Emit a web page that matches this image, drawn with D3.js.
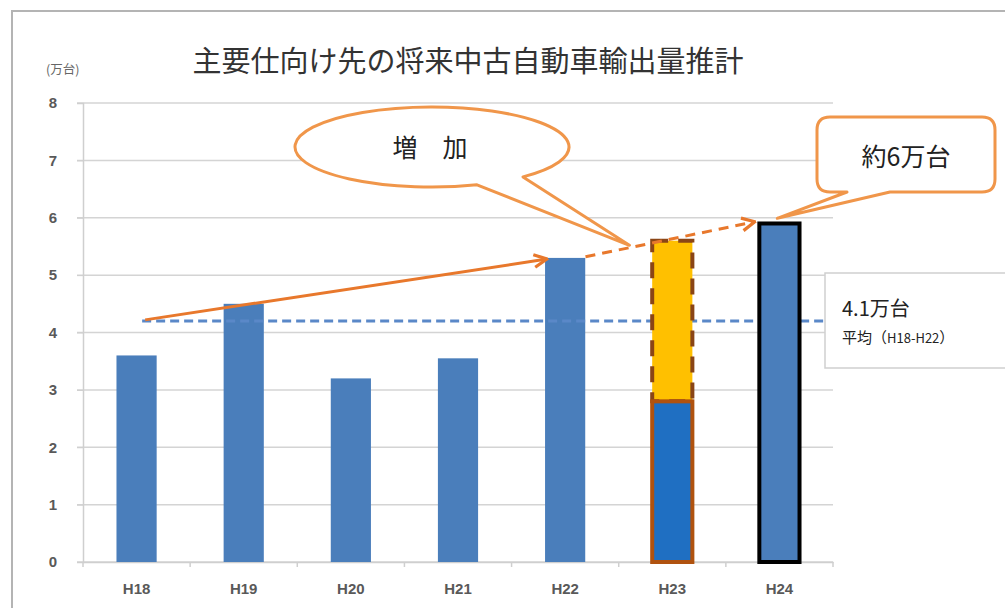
<!DOCTYPE html>
<html>
<head>
<meta charset="utf-8">
<script src="https://cdn.jsdelivr.net/npm/d3@7"></script>
<style>
  body { margin: 0; background: #fff; }
  svg { display: block; }
</style>
</head>
<body>
<div id="chart"></div>
<script>
// values (万台)
const categories = ["H18", "H19", "H20", "H21", "H22", "H23", "H24"];
const actual = [3.6, 4.5, 3.2, 3.55, 5.3];
const h23Parts = [2.8, 5.6];   // blue part top, yellow part top
const h24Value = 5.9;
const yTicks = [0, 1, 2, 3, 4, 5, 6, 7, 8];
const avgLine = 4.2;
// trend arrows: [category, position in band, value]
const trendSolid = [["H18", 0.58, 4.22], ["H22", 0.33, 5.28]];
const trendDashed = [["H22", 0.69, 5.32], ["H24", 0.27, 5.93]];
const tipIncrease = ["H23", 0.1, 5.52];
const tipSix = ["H24", 0.48, 5.99];

const W = 1005, H = 608;
const plotLeft = 83, plotRight = 833, plotTop = 103, plotBottom = 562;
const jp = "'Noto Sans CJK JP', 'Noto Sans', sans-serif";
const orange = "#e8782c";
const calloutOrange = "#f0964a";

const svg = d3.select("#chart").append("svg")
    .attr("width", W)
    .attr("height", H);

const x = d3.scaleBand()
    .domain(categories)
    .range([plotLeft, plotRight])
    .padding(0);

const y = d3.scaleLinear()
    .domain([0, 8])
    .range([plotBottom, plotTop]);

const bw = x.bandwidth() * 0.375;
const px = p => x(p[0]) + x.bandwidth() * p[1];
const py = p => y(p[2]);

// marker for arrows
svg.append("defs").append("marker")
    .attr("id", "arrow")
    .attr("viewBox", "0 0 10 10")
    .attr("refX", 9)
    .attr("refY", 5)
    .attr("markerWidth", 16)
    .attr("markerHeight", 16)
    .attr("markerUnits", "userSpaceOnUse")
    .attr("orient", "auto")
    .append("path")
    .attr("d", "M1,1 L9,5 L1,9")
    .attr("fill", "none")
    .attr("stroke", orange)
    .attr("stroke-width", 2);

// outer frame
svg.append("rect")
    .attr("x", 12)
    .attr("y", 11)
    .attr("width", 1200)
    .attr("height", 800)
    .attr("fill", "none")
    .attr("stroke", "#b4b4b4")
    .attr("stroke-width", 2);

// title
svg.append("text")
    .attr("x", 468)
    .attr("y", 72)
    .attr("text-anchor", "middle")
    .attr("font-family", jp)
    .attr("font-size", 29)
    .attr("fill", "#333")
    .text("主要仕向け先の将来中古自動車輸出量推計");

svg.append("text")
    .attr("x", 46)
    .attr("y", 74)
    .attr("font-family", jp)
    .attr("font-size", 12.5)
    .attr("fill", "#666")
    .text("(万台)");

// gridlines
svg.append("g")
    .selectAll("line")
    .data(yTicks)
    .enter()
    .append("line")
    .attr("x1", plotLeft - 6)
    .attr("x2", plotRight)
    .attr("y1", d => y(d))
    .attr("y2", d => y(d))
    .attr("stroke", "#d4d4d4")
    .attr("stroke-width", 1.5);

// y axis
const yAxis = svg.append("g")
    .attr("transform", `translate(${plotLeft},0)`)
    .call(d3.axisLeft(y).tickValues(yTicks).tickSize(6).tickPadding(20));
yAxis.select(".domain").attr("stroke", "#cfcfcf").attr("stroke-width", 1.5);
yAxis.selectAll(".tick line").attr("stroke", "#cfcfcf");
yAxis.selectAll("text")
    .attr("font-family", "'Liberation Sans', sans-serif")
    .attr("font-size", 15)
    .attr("font-weight", "bold")
    .attr("fill", "#595959");

// x axis
const xAxis = svg.append("g")
    .attr("transform", `translate(0,${plotBottom})`)
    .call(d3.axisBottom(x).tickSize(0).tickPadding(21));
xAxis.select(".domain").attr("stroke", "#cfcfcf").attr("stroke-width", 1.5);
xAxis.selectAll("text")
    .attr("font-family", "'Liberation Sans', sans-serif")
    .attr("font-size", 15)
    .attr("font-weight", "bold")
    .attr("fill", "#595959");
svg.append("g")
    .selectAll("line")
    .data(categories.concat(["end"]))
    .enter()
    .append("line")
    .attr("x1", (d, i) => plotLeft + i * x.bandwidth())
    .attr("x2", (d, i) => plotLeft + i * x.bandwidth())
    .attr("y1", plotBottom)
    .attr("y2", plotBottom + 5)
    .attr("stroke", "#cfcfcf")
    .attr("stroke-width", 1.5);

// actual bars H18-H22
svg.append("g")
    .selectAll("rect")
    .data(actual)
    .enter()
    .append("rect")
    .attr("x", (d, i) => x(categories[i]) + (x.bandwidth() - bw) / 2)
    .attr("y", d => y(d))
    .attr("width", bw)
    .attr("height", d => y(0) - y(d))
    .attr("fill", "#4a7ebb");

// average dashed line
svg.append("line")
    .attr("x1", px(trendSolid[0]) - 3)
    .attr("x2", plotRight - 8)
    .attr("y1", y(avgLine))
    .attr("y2", y(avgLine))
    .attr("stroke", "#5a88c8")
    .attr("stroke-width", 3)
    .attr("stroke-dasharray", "9,5");

// H23 stacked forecast
const cx23 = x("H23") + x.bandwidth() / 2;
const w23 = bw;
svg.append("rect")
    .attr("x", cx23 - w23 / 2)
    .attr("y", y(h23Parts[1]))
    .attr("width", w23)
    .attr("height", y(h23Parts[0]) - y(h23Parts[1]))
    .attr("fill", "#ffc000")
    .attr("stroke", "#8a4516")
    .attr("stroke-width", 4)
    .attr("stroke-dasharray", "16,10");
svg.append("rect")
    .attr("x", cx23 - w23 / 2)
    .attr("y", y(h23Parts[0]))
    .attr("width", w23)
    .attr("height", y(0) - y(h23Parts[0]))
    .attr("fill", "#1f6fc2")
    .attr("stroke", "#b0520f")
    .attr("stroke-width", 4);

// H24 forecast
const cx24 = x("H24") + x.bandwidth() / 2;
svg.append("rect")
    .attr("x", cx24 - bw / 2)
    .attr("y", y(h24Value))
    .attr("width", bw)
    .attr("height", y(0) - y(h24Value))
    .attr("fill", "#4a7ebb")
    .attr("stroke", "#000")
    .attr("stroke-width", 4);

// trend arrows
svg.append("line")
    .attr("x1", px(trendSolid[0]))
    .attr("y1", py(trendSolid[0]))
    .attr("x2", px(trendSolid[1]))
    .attr("y2", py(trendSolid[1]))
    .attr("stroke", orange)
    .attr("stroke-width", 3)
    .attr("marker-end", "url(#arrow)");
svg.append("line")
    .attr("x1", px(trendDashed[0]))
    .attr("y1", py(trendDashed[0]))
    .attr("x2", px(trendDashed[1]))
    .attr("y2", py(trendDashed[1]))
    .attr("stroke", orange)
    .attr("stroke-width", 3)
    .attr("stroke-dasharray", "10,7")
    .attr("marker-end", "url(#arrow)");

// callout: 増 加 (ellipse with tail)
const ecx = 432, ecy = 147, erx = 137, ery = 40;
const a1 = Math.acos(45 / erx), a2 = Math.acos(91 / erx);
const A = [ecx + erx * Math.cos(a1), ecy + ery * Math.sin(a1)];
const B = [ecx + erx * Math.cos(a2), ecy + ery * Math.sin(a2)];
svg.append("path")
    .attr("d", `M${A[0]},${A[1]} A${erx},${ery} 0 1 1 ${B[0]},${B[1]} L${px(tipIncrease)},${py(tipIncrease)} Z`)
    .attr("fill", "#fff")
    .attr("stroke", calloutOrange)
    .attr("stroke-width", 3)
    .attr("stroke-linejoin", "round");
svg.append("text")
    .attr("x", 430)
    .attr("y", 157)
    .attr("text-anchor", "middle")
    .attr("font-family", jp)
    .attr("font-size", 25)
    .attr("fill", "#222")
    .text("増　加");

// callout: 約6万台 (rounded rect with tail)
const rx0 = 817, rx1 = 995, ry0 = 117, ry1 = 192, rr = 13;
svg.append("path")
    .attr("d", `M${rx0 + rr},${ry0} H${rx1 - rr} Q${rx1},${ry0} ${rx1},${ry0 + rr} V${ry1 - rr} Q${rx1},${ry1} ${rx1 - rr},${ry1} H890 L${px(tipSix)},${py(tipSix)} L847,${ry1} H${rx0 + rr} Q${rx0},${ry1} ${rx0},${ry1 - rr} V${ry0 + rr} Q${rx0},${ry0} ${rx0 + rr},${ry0} Z`)
    .attr("fill", "#fff")
    .attr("stroke", calloutOrange)
    .attr("stroke-width", 3)
    .attr("stroke-linejoin", "round");
svg.append("text")
    .attr("x", 906)
    .attr("y", 166)
    .attr("text-anchor", "middle")
    .attr("font-family", jp)
    .attr("font-size", 25)
    .attr("fill", "#222")
    .text("約6万台");

// average label box
svg.append("rect")
    .attr("x", 825)
    .attr("y", 273)
    .attr("width", 240)
    .attr("height", 95)
    .attr("fill", "#fff")
    .attr("stroke", "#cfcfcf")
    .attr("stroke-width", 1.5);
svg.append("text")
    .attr("x", 842)
    .attr("y", 316)
    .attr("font-family", jp)
    .attr("font-size", 20)
    .attr("fill", "#222")
    .text("4.1万台");
const avgSub = svg.append("text")
    .attr("x", 842)
    .attr("y", 343)
    .attr("font-family", jp)
    .attr("font-size", 15)
    .attr("fill", "#222");
avgSub.append("tspan").text("平均（");
avgSub.append("tspan").attr("font-size", 13).text("H18-H22");
avgSub.append("tspan").text("）");
</script>
</body>
</html>
